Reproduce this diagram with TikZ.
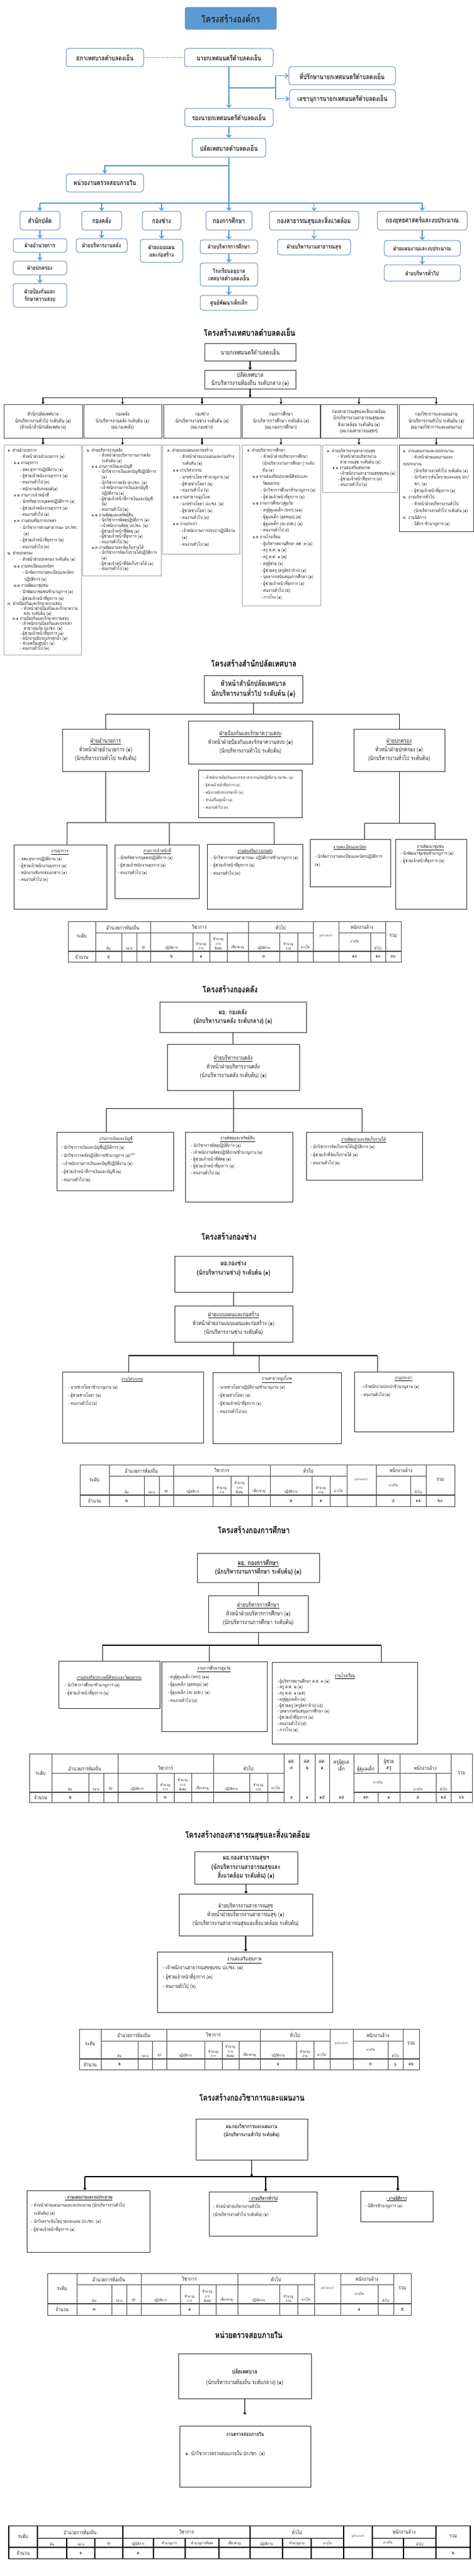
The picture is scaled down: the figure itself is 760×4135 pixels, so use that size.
\documentclass[tikz,border=0pt]{standalone}
\usepackage{fontspec}
\setmainfont[Script=Thai,FakeStretch=0.8]{Loma}
\usetikzlibrary{arrows.meta}
\definecolor{ttlfill}{HTML}{5B9BD5}
\definecolor{ttldraw}{HTML}{41719C}
\definecolor{tbdraw}{HTML}{6A8DBE}
\definecolor{arrc}{HTML}{5B9BD5}
\definecolor{txt}{HTML}{222222}
\newcommand\fs[2]{\fontsize{#1}{#2}\selectfont}
\newcommand\I[1]{\hspace*{#1pt}}
\newcommand\fA{\fs{7.5}{9}}
\newcommand\fB{\fs{7.5}{9}}
\newcommand\fM{\fs{9.5}{14}}
\newcommand\fH{\fs{10.5}{14.5}\bfseries}
\newcommand\fT{\fs{6.3}{8}}
\newcommand\tX[1]{\csname tx#1\endcsname}
\newcommand\tbx[7][]{\node[minimum width={(#5-#3)*1pt},minimum height={(#6-#4)*1pt},inner sep=1pt,#1] (#2) at ({(#3+#5)/2},{(#4+#6)/2}) {#7};}
\newcommand\bx[6][]{\node[minimum width={(#5-#3)*1pt},minimum height={(#6-#4)*1pt},inner sep=0pt,#1] (#2) at ({(#3+#5)/2},{(#4+#6)/2}) {};}
\newcommand\lns[6][]{\foreach \lnitem [count=\ci from 0] in {#6}{\node[lt,#1] (#2\ci) at (#3,{#4+\ci*#5}) {\lnitem};}}
\newcommand\stdtable[9]{%
\begin{scope}[#9]
\foreach \val [count=\kk from 0] in {#2}{\expandafter\xdef\csname tx\kk\endcsname{\val}}%
\def\yA{#3}\def\yB{#4}\def\yC{#5}\def\yD{#6}%
\draw[tline] ({\tX{0}},\yA) rectangle ({\tX{15}},\yD);
\draw[tline] ({\tX{0}},\yC) -- ({\tX{15}},\yC);
\draw[tline] ({\tX{0}},\yC+1.4) -- ({\tX{15}},\yC+1.4);
\foreach \kk in {1,4,8,11,12,14}{\draw[tline] ({\tX{\kk}},\yA) -- ({\tX{\kk}},\yD);}
\foreach \kk in {2,3,5,6,7,9,10,13}{\draw[tline] ({\tX{\kk}},\yB) -- ({\tX{\kk}},\yD);}
\foreach \ia/\ib in {1/4,4/8,8/11,12/14}{\draw[tline] ({\tX{\ia}},\yB) -- ({\tX{\ib}},\yB);}
\node[tgh] (#1-lv) at ({(\tX{0}+\tX{1})/2},{(\yA+\yC)/2}) {ระดับ};
\node[tgh] (#1-g1) at ({(\tX{1}+\tX{4})/2},{(\yA+\yB)/2}) {อำนวยการท้องถิ่น};
\node[tgh] (#1-g2) at ({(\tX{4}+\tX{8})/2},{(\yA+\yB)/2}) {วิชาการ};
\node[tgh] (#1-g3) at ({(\tX{8}+\tX{11})/2},{(\yA+\yB)/2}) {ทั่วไป};
\node[tgh] (#1-g4) at ({(\tX{12}+\tX{14})/2},{(\yA+\yB)/2}) {พนักงานจ้าง};
\node[tgh] (#1-sum) at ({(\tX{14}+\tX{15})/2},{(\yA+\yC)/2}) {รวม};
\node[ttiny] (#1-lp) at ({(\tX{11}+\tX{12})/2},{(\yA+\yC)/2}) {ลูกจ้างประจำ};
\foreach \kk/\tx in {#8}{\pgfmathtruncatemacro\kn{\kk+1}\node[tsub] (#1-s\kk) at ({(\tX{\kk}+\tX{\kn})/2},{\yC-1.5}) {\tx};}
\node[tsub,anchor=center] (#1-s12) at ({(\tX{12}+\tX{13})/2},{(\yB+\yC)/2}) {ภารกิจ};
\node[tgh] (#1-n) at ({(\tX{0}+\tX{1})/2},{(\yC+\yD)/2+0.7}) {จำนวน};
\foreach \vv [count=\kk] in {#7}{\pgfmathtruncatemacro\kn{\kk+1}\node[tdat] (#1-d\kk) at ({(\tX{\kk}+\tX{\kn})/2},{(\yC+\yD)/2+0.7}) {\vv};}
\end{scope}}
\begin{document}
\begin{tikzpicture}[x=1pt,y=-1pt,
  ttlbox/.style={draw=ttldraw,fill=ttlfill,line width=0.8pt,rounded corners=3pt,font=\fs{16}{18}\bfseries,text=black!85},
  tb/.style={draw=tbdraw,fill=white,line width=1pt,rounded corners=4pt,align=center,font=\fs{11}{13}\bfseries,text=black!85},
  tbs/.style={tb,font=\fs{9.5}{12}\bfseries},
  bln/.style={draw=arrc,line width=1.4pt},
  barr/.style={bln,-{Straight Barb[length=4pt,width=7pt]}},
  bdash/.style={draw=arrc,line width=1.3pt,dash pattern=on 3pt off 1.5pt},
  sttl/.style={font=\fs{14}{16}\bfseries,text=black},
  kb/.style={draw=black!80,line width=0.8pt,align=center,text=txt},
  kbh/.style={kb,draw=black!70,font=\fs{8}{10.5}},
  gb/.style={draw=black!35,line width=0.7pt},
  kl/.style={draw=black!85,line width=0.8pt},
  klt/.style={draw=black,line width=1.5pt},
  karr/.style={draw=black,line width=1.6pt,-{Triangle[length=3.5pt,width=5pt]}},
  karrs/.style={draw=black,line width=1.4pt,-{Triangle[length=3pt,width=4.5pt]}},
  lt/.style={anchor=base west,inner sep=0pt,text=txt},
  tline/.style={draw=black!70,line width=0.6pt},
  tgh/.style={font=\fs{8.5}{10},inner sep=0pt,align=center,text=txt},
  tsub/.style={font=\fs{6}{7.2},inner sep=0pt,text width=50pt,align=center,anchor=south,text=txt},
  ttiny/.style={font=\fs{4.5}{5},inner sep=0pt,text=txt},
  tdat/.style={font=\fs{8}{9},inner sep=0pt,text=txt}]
\fill[white] (0,0) rectangle (760,4135);
\useasboundingbox (0,0) rectangle (760,4135);

% ================= Section 1: organisation chart =================
\tbx[ttlbox]{T}{297}{12}{443}{47}{โครงสร้างองค์กร}
\tbx[tb]{sapha}{106}{78}{230}{107}{สภาเทศบาลตำบลดงเย็น}
\tbx[tb]{mayor}{296}{78}{438}{107}{นายกเทศมนตรีตำบลดงเย็น}
\tbx[tb]{advis}{463}{107}{634}{136}{ที่ปรึกษานายกเทศมนตรีตำบลดงเย็น}
\tbx[tb]{secr}{464}{144}{634}{173}{เลขานุการนายกเทศมนตรีตำบลดงเย็น}
\tbx[tb]{deputy}{296}{174}{438}{203}{รองนายกเทศมนตรีตำบลดงเย็น}
\tbx[tb]{palad}{308}{222}{426}{252}{ปลัดเทศบาลตำบลดงเย็น}
\tbx[tb]{audit}{106}{279}{230}{308}{หน่วยงานตรวจสอบภายใน}
\tbx[tb]{d1}{32}{339}{96}{369}{สำนักปลัด}
\tbx[tb]{d2}{131}{339}{195}{369}{กองคลัง}
\tbx[tb]{d3}{228}{339}{290}{369}{กองช่าง}
\tbx[tb]{d4}{330}{339}{404}{369}{กองการศึกษา}
\tbx[tb]{d5}{432}{339}{575}{369}{กองสาธารณสุขและสิ่งแวดล้อม}
\tbx[tb]{d6}{605}{339}{749}{369}{กองยุทธศาสตร์และงบประมาณ}
\tbx[tbs]{s11}{21}{383}{107}{405}{ฝ่ายอำนวยการ}
\tbx[tbs]{s12}{21}{419}{107}{441}{ฝ่ายปกครอง}
\tbx[tbs]{s13}{21}{455}{107}{493}{ฝ่ายป้องกันและ\\รักษาความสงบ}
\tbx[tbs]{s21}{122}{383}{204}{405}{ฝ่ายบริหารงานคลัง}
\tbx[tbs]{s31}{225}{384}{293}{421}{ฝ่ายแบบแผน\\และก่อสร้าง}
\tbx[tbs]{s41}{321}{385}{413}{407}{ฝ่ายบริหารการศึกษา}
\tbx[tbs]{s42}{321}{422}{413}{459}{โรงเรียนอนุบาล\\เทศบาลตำบลดงเย็น}
\tbx[tbs]{s43}{321}{474}{413}{498}{ศูนย์พัฒนาเด็กเล็ก}
\tbx[tbs]{s51}{445}{384}{562}{409}{ฝ่ายบริหารงานสาธารณสุข}
\tbx[tbs]{s61}{616}{386}{738}{411}{ฝ่ายแผนงานและงบประมาณ}
\tbx[tbs]{s62}{616}{425}{738}{451}{ฝ่ายบริหารทั่วไป}
\draw[bdash] (sapha) -- (mayor);
\draw[barr] (mayor) -- (deputy);
\coordinate (br1) at (367,141);
\coordinate (br2) at (442,141);
\draw[bln] (br1) -- (br2);
\draw[barr] (br2) |- (advis.west);
\draw[barr] (br2) |- (secr.west);
\draw[barr] (deputy) -- (palad);
\coordinate (trk) at (367,326);
\coordinate (abr) at (367,266);
\draw[bln] (palad.south) -- (trk);
\draw[barr] (abr) -| (audit.north);
\draw[bln] (d1.north |- trk) -- (d6.north |- trk);
\foreach \dd in {d1,d2,d3,d4,d5,d6}{\draw[barr] (\dd.north |- trk) -- (\dd.north);}
\draw[barr] (d1) -- (s11);
\draw[barr] (s11) -- (s12);
\draw[barr] (s12) -- (s13);
\draw[barr] (d2) -- (s21);
\draw[barr] (d3) -- (s31);
\draw[barr] (d4) -- (s41);
\draw[barr] (s41) -- (s42);
\draw[barr] (s42) -- (s43);
\draw[barr] (d5) -- (s51);
\draw[barr] (d6) -- (s61);
\draw[barr] (s61) -- (s62);

% ================= Section 2 =================
\node[sttl] (st2) at (400,533) {โครงสร้างเทศบาลตำบลดงเย็น};
\tbx[kb,font=\fs{10}{13}]{n1}{328}{551}{474}{579}{นายกเทศมนตรีตำบลดงเย็น}
\tbx[kb,font=\fs{10}{13}]{n2}{328}{594}{474}{624}{ปลัดเทศบาล\\นักบริหารงานท้องถิ่น ระดับกลาง (๑)}
\draw[karr] (n1) -- (n2);
\coordinate (bus2) at (401,638);
\draw[karr] (n2) -- (bus2);
\tbx[kbh]{h1}{6}{649}{132}{703}{สำนักปลัดเทศบาล\\นักบริหารงานทั่วไป ระดับต้น (๑)\\(หัวหน้าสำนักปลัดเทศบาล)}
\tbx[kbh]{h2}{134}{649}{259}{703}{กองคลัง\\นักบริหารงานคลัง ระดับต้น (๑)\\(ผอ.กองคลัง)}
\tbx[kbh]{h3}{262}{649}{386}{703}{กองช่าง\\นักบริหารงานช่าง ระดับต้น (๑)\\(ผอ.กองช่าง)}
\tbx[kbh]{h4}{388}{649}{513}{703}{กองการศึกษา\\นักบริหารการศึกษา ระดับต้น (๑)\\(ผอ.กองการศึกษา)}
\tbx[kbh]{h5}{514}{649}{637}{703}{กองสาธารณสุขและสิ่งแวดล้อม\\นักบริหารงานสาธารณสุขและ\\สิ่งแวดล้อม ระดับต้น (๑)\\(ผอ.กองสาธารณสุขฯ)}
\tbx[kbh]{h6}{640}{649}{759}{703}{กองวิชาการและแผนงาน\\นักบริหารงานทั่วไป ระดับต้น (๑)\\(ผอ.กองวิชาการและแผนงาน)}
\draw[kl] (h1.north |- bus2) -- (h6.north |- bus2);
\foreach \hh in {h1,h2,h3,h4,h5,h6}{\draw[karrs] (\hh.north |- bus2) -- (\hh.north);}
\bx[gb]{l1}{6}{714}{130}{1051}
\bx[gb]{l2}{132}{714}{258}{924}
\bx[gb]{l3}{260}{714}{384}{889}
\bx[gb]{l4}{388}{714}{514}{972}
\bx[gb]{l5}{517}{714}{637}{790}
\bx[gb,draw=black!75]{l6}{640}{714}{759}{853}
\foreach \ha/\hb in {h1/l1,h2/l2,h3/l3,h4/l4,h5/l5,h6/l6}{\draw[karrs] (\ha.south) -- (\ha.south |- \hb.north);}
\lns[font=\fA]{l1a}{12}{725}{10.35}{๑. ฝ่ายอำนวยการ,\I{20}- หัวหน้าฝ่ายอำนวยการ (๑),\I{10}๑.๑ งานธุรการ,\I{20}- จพง.ธุรการปฏิบัติงาน (๑),\I{20}- ผู้ช่วยเจ้าพนักงานธุรการ (๑),\I{20}- คนงานทั่วไป (๓),\I{20}- พนักงานขับรถยนต์(๑),\I{10}๑.๒ งานการเจ้าหน้าที่,\I{20}- นักทรัพยากรบุคคลปฏิบัติการ (๑),\I{20}- ผู้ช่วยเจ้าพนักงานธุรการ (๑),\I{20}- คนงานทั่วไป (๑),\I{10}๑.๓ งานส่งเสริมการเกษตร,\I{20}- นักวิชาการสวนสาธารณะ ปก./ชก.,\I{26}(๑),\I{20}- ผู้ช่วยเจ้าหน้าที่ธุรการ (๒),\I{20}- คนงานทั่วไป (๓),๒. ฝ่ายปกครอง,\I{20}- หัวหน้าฝ่ายปกครอง ระดับต้น (๑),\I{10}๒.๑ งานทะเบียนและบัตร,\I{24}- นักจัดการงานทะเบียนและบัตร,\I{27}ปฏิบัติการ (๑),\I{10}๒.๒ งานพัฒนาชุมชน,\I{20}- นักพัฒนาชุมชนชำนาญการ (๑),\I{20}- ผู้ช่วยเจ้าหน้าที่ธุรการ (๒)}
\lns[font=\fA]{l1b}{12}{971}{8.1}{๓. ฝ่ายป้องกันและรักษาความสงบ,\I{22}- หัวหน้าฝ่ายป้องกันและรักษาความ,\I{26}สงบ ระดับต้น  (๑),\I{8}๓.๑ งานป้องกันและรักษาความสงบ,\I{20}- เจ้าพนักงานป้องกันและบรรเทา,\I{26}สาธารณภัย ปง./ชง. (๑),\I{20}- ผู้ช่วยเจ้าหน้าที่ธุรการ (๑),\I{20}- พนักงานขับรถบรรทุกน้ำ (๑),\I{20}- ช่างเครื่องสูบน้ำ (๑),\I{20}- คนงานทั่วไป (๓)}
\lns[font=\fA]{l2t}{139}{725}{8.68}{๑. ฝ่ายบริหารงานคลัง,\I{20}- หัวหน้าฝ่ายบริหารงานการคลัง,\I{24}ระดับต้น (๑),\I{8}๑.๑ งานการเงินและบัญชี,\I{20}- นักวิชาการเงินและบัญชีปฏิบัติการ,\I{24}(๑),\I{20}- นักวิชาการคลัง ปก./ชก. (๑),\I{20}- เจ้าพนักงานการเงินและบัญชี,\I{24}ปฏิบัติงาน (๑),\I{20}- ผู้ช่วยเจ้าหน้าที่การเงินและบัญชี,\I{24}(๒),\I{20}- คนงานทั่วไป (๒),\I{8}๑.๒ งานพัสดุและทรัพย์สิน,\I{20}- นักวิชาการพัสดุปฏิบัติการ (๑),\I{20}- เจ้าพนักงานพัสดุ ปง./ชง. (๒),\I{20}- ผู้ช่วยเจ้าหน้าที่พัสดุ (๑),\I{20}- ผู้ช่วยเจ้าหน้าที่ธุรการ (๑),\I{20}- คนงานทั่วไป (๒),\I{8}๑.๓ งานพัฒนาและจัดเก็บรายได้,\I{20}- นักวิชาการจัดเก็บรายได้ปฏิบัติการ,\I{24}(๑),\I{20}- ผู้ช่วยเจ้าหน้าที่จัดเก็บรายได้ (๑),\I{20}- คนงานทั่วไป (๒)}
\lns[font=\fA]{l3t}{268}{725}{10.8}{๑. ฝ่ายแบบแผนและก่อสร้าง,\I{20}- หัวหน้าฝ่ายแบบแผนและก่อสร้าง,\I{24}ระดับต้น (๑),\I{9}๑.๑ งานวิศวกรรม,\I{20}- นายช่างโยธาชำนาญงาน (๑),\I{20}- ผู้ช่วยช่างโยธา (๒),\I{20}- คนงานทั่วไป (๖),\I{9}๑.๒ งานสาธารณูปโภค,\I{20}- นายช่างโยธา ปง./ชง. (๑),\I{20}- ผู้ช่วยช่างโยธา (๑),\I{20}- คนงานทั่วไป (๓),\I{9}๑.๓ งานประปา,\I{20}- เจ้าพนักงานการประปาปฏิบัติงาน,\I{24}(๑),\I{20}- คนงานทั่วไป (๒)}
\lns[font=\fA]{l4t}{396}{725}{10.73}{๑. ฝ่ายบริหารการศึกษา,\I{22}- หัวหน้าฝ่ายบริหารการศึกษา,\I{25}(นักบริหารงานการศึกษา ) ระดับ,\I{25}ต้น  (๑),\I{9}๑.๑ งานส่งเสริมประเพณีศิลปะและ,\I{25}วัฒนธรรม,\I{22}- นักวิชาการศึกษาชำนาญการ (๑),\I{22}- ผู้ช่วยเจ้าหน้าที่ธุรการ (๒),\I{9}๑.๒ งานการศึกษาปฐมวัย,\I{22}- ครูผู้ดูแลเด็ก (ขรก)  (๑๑),\I{22}- ผู้ดูแลเด็ก (อุดหนุน)  (๗),\I{22}- ผู้ดูแลเด็ก (งบ อปท.)  (๑),\I{22}- คนงานทั่วไป ๔),\I{9}๑.๓ งานโรงเรียน,\I{22}- ผู้บริหารสถานศึกษา คศ. ๓  (๑),\I{22}- ครู ค.ศ. ๒ (๑),\I{22}- ครู ค.ศ. ๑ (๗),\I{22}- ครูผู้ช่วย (๖),\I{22}- ผู้ช่วยครู (ครูอัตราจ้าง) (๑),\I{22}- บุคลากรสนับสนุนการศึกษา (๑),\I{22}- ผู้ช่วยเจ้าหน้าที่ธุรการ (๑),\I{22}- คนงานทั่วไป (๕),\I{22}- ภารโรง (๑)}
\lns[font=\fA]{l5t}{524}{726}{9}{๑. ฝ่ายบริหารงานสาธารณสุข,\I{18}- หัวหน้าฝ่ายบริหารงาน,\I{21}สาธารณสุข ระดับต้น (๑),\I{9}๑.๑ งานส่งเสริมสุขภาพ,\I{18}- เจ้าพนักงานสาธารณสุขชุมชน (๑),\I{18}- ผู้ช่วยเจ้าหน้าที่ธุรการ (๓),\I{18}- คนงานทั่วไป (๖)}
\lns[font=\fA]{l6t}{646}{726}{10.7}{๑. งานแผนงานและงบประมาณ,\I{14}- หัวหน้าฝ่ายแผนงานและ,งบประมาณ,\I{18}(นักบริหารงานทั่วไป ระดับต้น (๑),\I{14}- นักวิเคราะห์นโยบายและแผน ปก./,\I{18}ชก. (๑),\I{14}- ผู้ช่วยเจ้าหน้าที่ธุรการ (๑),๒. งานบริหารทั่วไป,\I{14}- หัวหน้าฝ่ายบริหารงานทั่วไป,\I{18}(นักบริหารงานทั่วไป ระดับต้น (๑),๓. งานนิติการ,\I{14}- นิติกร ชำนาญการ (๑)}

% ================= Section 3: สำนักปลัด =================
\node[sttl] (st3) at (407,1065) {โครงสร้างสำนักปลัดเทศบาล};
\tbx[kb,font=\fs{12}{16}\bfseries]{p0}{327}{1084}{485}{1128}{หัวหน้าสำนักปลัดเทศบาล\\นักบริหารงานทั่วไป ระดับต้น (๑)}
\tbx[kb,font=\fM]{p1}{100}{1170}{239}{1238}{\underline{ฝ่ายอำนวยการ}\\หัวหน้าฝ่ายอำนวยการ (๑)\\(นักบริหารงานทั่วไป ระดับต้น)}
\tbx[kb,font=\fM]{p2}{302}{1157}{501}{1226}{\underline{ฝ่ายป้องกันและรักษาความสงบ}\\หัวหน้าฝ่ายป้องกันและรักษาความสงบ (๑)\\(นักบริหารงานทั่วไป ระดับต้น)}
\tbx[kb,font=\fM]{p3}{567}{1170}{713}{1238}{\underline{ฝ่ายปกครอง}\\หัวหน้าฝ่ายปกครอง (๑)\\(นักบริหารงานทั่วไป ระดับต้น)}
\coordinate (b3) at (406,1146);
\draw[kl] (p0.south) -- (b3);
\draw[kl] (p1.north) |- (b3) -| (p3.north);
\bx[kb]{p2l}{318}{1236}{484}{1312}
\lns[font=\fT]{p2t}{326}{1250}{12.1}{- เจ้าพนักงานป้องกันและบรรเทาสาธารณภัยปฏิบัติงาน ปง./ชง. (๑),- ผู้ช่วยเจ้าหน้าที่ธุรการ  (๑),- พนักงานขับรถบรรทุกน้ำ (๑),- ช่างเครื่องสูบน้ำ (๑),- คนงานทั่วไป (๓)}
\bx[kb]{q1}{22}{1356}{171}{1459}
\bx[kb]{q2}{184}{1356}{319}{1442}
\bx[kb]{q3}{332}{1355}{485}{1459}
\bx[kb]{q4}{497}{1347}{626}{1423}
\bx[kb]{q5}{634}{1347}{748}{1459}
\coordinate (b3l) at (169.5,1320);
\coordinate (b3la) at (107,1320);
\coordinate (b3lb) at (271,1320);
\coordinate (b3lc) at (439,1320);
\draw[kl] (p1.south) -- (b3l);
\draw[kl] (b3la) -- (b3lc);
\draw[kl] (b3la) -- (b3la |- q1.north);
\draw[kl] (b3lb) -- (b3lb |- q2.north);
\draw[kl] (b3lc) -- (b3lc |- q3.north);
\coordinate (b3r) at (640,1321);
\coordinate (b3ra) at (584,1321);
\coordinate (b3rb) at (697,1321);
\draw[kl] (p3.south) -- (b3r);
\draw[kl] (b3ra) -- (b3rb);
\draw[kl] (b3ra) -- (b3ra |- q4.north);
\draw[kl] (b3rb) -- (b3rb |- q5.north);
\node[font=\fB,text=txt] (q1h) at (96,1368) {\underline{งานธุรการ}};
\lns[font=\fB]{q1t}{30}{1381}{11.3}{- จพง.ธุรการปฏิบัติงาน (๑),- ผู้ช่วยเจ้าพนักงานธุรการ (๑),- พนักงานขับรถส่งเอกสาร (๑),- คนงานทั่วไป (๓)}
\node[font=\fB,text=txt] (q2h) at (252,1366) {\underline{งานการเจ้าหน้าที่}};
\lns[font=\fB]{q2t}{189}{1379}{12}{- นักทรัพยากรบุคคลปฏิบัติการ (๑),- ผู้ช่วยเจ้าพนักงานธุรการ (๑),- คนงานทั่วไป (๑)}
\node[font=\fB,text=txt] (q3h) at (409,1366) {\underline{งานส่งเสริมการเกษตร}};
\lns[font=\fB]{q3t}{338}{1379}{12.5}{- นักวิชาการสวนสาธารณะ ปฏิบัติการ/ชำนาญการ (๑),- ผู้ช่วยเจ้าหน้าที่ธุรการ (๒),- คนงานทั่วไป (๓)}
\node[font=\fB,text=txt] (q4h) at (561,1360) {\underline{งานทะเบียนและบัตร}};
\lns[font=\fB]{q4t}{505}{1377}{13}{- นักจัดการงานทะเบียนและบัตรปฏิบัติการ,(๑)}
\node[font=\fB,text=txt] (q5h) at (690,1360) {\underline{งานพัฒนาชุมชน}};
\lns[font=\fB]{q5t}{642}{1372}{12}{- นักพัฒนาชุมชนชำนาญการ (๑),- ผู้ช่วยเจ้าหน้าที่ธุรการ (๒)}
\stdtable{tA}{109,153,195,219,241,309,336,364,398,448,477,502,543,594,618,643}{1479}{1497}{1526}{1544}{๔,{},{},๒,๑,{},{},๓,{},{},{},๑๐,๑๐,๓๐}{1/ต้น,2/กลาง,3/สูง,4/ปฏิบัติการ,5/{ชำนาญ\\การ},6/{ชำนาญ\\การ\\พิเศษ},7/เชี่ยวชาญ,8/ปฏิบัติงาน,9/{ชำนาญ\\งาน},10/อาวุโส,13/ทั่วไป}{}

% ================= Section 4: กองคลัง =================
\node[sttl] (st4) at (369,1588) {โครงสร้างกองคลัง};
\tbx[kb,font=\fH]{k0}{256}{1608}{491}{1657}{ผอ. กองคลัง\\(นักบริหารงานคลัง ระดับกลาง) (๑)}
\tbx[kb,font=\fM]{k1}{268}{1676}{480}{1750}{\underline{ฝ่ายบริหารงานคลัง}\\หัวหน้าฝ่ายบริหารงานคลัง\\(นักบริหารงานคลัง ระดับต้น) (๑)}
\draw[kl] (k0.south) -- (k0.south |- k1.north);
\bx[kb]{k2}{91}{1817}{278}{1911}
\bx[kb]{k3}{297}{1817}{469}{1929}
\bx[kb]{k4}{491}{1817}{677}{1894}
\draw[kl] (k1.south) -- (k1.south |- k3.north);
\coordinate (b4a) at (170,1779);
\coordinate (b4c) at (580,1779);
\draw[kl] (b4a) -- (b4c);
\draw[kl] (b4a) -- (b4a |- k2.north);
\draw[kl] (b4c) -- (b4c |- k4.north);
\node[font=\fB,text=txt] (k2h) at (186,1829) {\underline{งานการเงินและบัญชี}};
\lns[font=\fB]{k2t}{98}{1844}{13}{- นักวิชาการเงินและบัญชีปฏิบัติการ (๑),- นักวิชาการคลังปฏิบัติการ/ชำนาญการ (๑)***,- เจ้าพนักงานการเงินและบัญชีปฏิบัติงาน (๑),- ผู้ช่วยเจ้าหน้าที่การเงินและบัญชี (๒),- คนงานทั่วไป (๒)}
\node[font=\fB,text=txt] (k3h) at (381,1828) {\underline{งานพัสดุและทรัพย์สิน}};
\lns[font=\fB]{k3t}{306}{1841}{11.2}{- นักวิชาการพัสดุปฏิบัติการ (๑),- เจ้าพนักงานพัสดุปฏิบัติงาน/ชำนาญงาน (๒),- ผู้ช่วยเจ้าหน้าที่พัสดุ (๑),- ผู้ช่วยเจ้าหน้าที่ธุรการ (๑),- คนงานทั่วไป (๒)}
\node[font=\fB,text=txt] (k4h) at (583,1829) {\underline{งานพัฒนาและจัดเก็บรายได้}};
\lns[font=\fB]{k4t}{498}{1843}{13}{- นักวิชาการจัดเก็บรายได้ปฏิบัติการ (๑),- ผู้ช่วยเจ้าที่จัดเก็บรายได้ (๑),- คนงานทั่วไป (๒)}

% ================= Section 5: กองช่าง =================
\node[sttl] (st5) at (367,1985) {โครงสร้างกองช่าง};
\bx[kb]{c0}{280}{2016}{469}{2074}
\node[font=\fH,align=center,text=txt] (c0t) at (374.5,2036) {ผอ.กองช่าง\\(นักบริหารงานช่าง) ระดับต้น (๑)};
\tbx[kb,font=\fM]{c1}{280}{2096}{469}{2154}{\underline{ฝ่ายแบบแผนและก่อสร้าง}\\หัวหน้าฝ่ายงานแบบแผนและก่อสร้าง (๑)\\(นักบริหารงานช่าง ระดับต้น)}
\draw[kl] (c0) -- (c1);
\coordinate (b5) at (374.5,2176);
\draw[kl] (c1) -- (b5);
\coordinate (b5a) at (206,2176);
\coordinate (b5b) at (415,2176);
\coordinate (b5c) at (605,2176);
\draw[klt] (b5a) -- (b5c);
\bx[kb]{c2}{100}{2202}{326}{2316}
\bx[kb]{c3}{341}{2203}{547}{2317}
\bx[kb]{c4}{568}{2202}{727}{2298}
\draw[kl] (b5a) -- (b5a |- c2.north);
\draw[kl] (b5b) -- (b5b |- c3.north);
\draw[kl] (b5c) -- (b5c |- c4.north);
\node[font=\fB,text=txt] (c2h) at (212,2214) {\underline{งานวิศวกรรม}};
\lns[font=\fB]{c2t}{109}{2229}{13}{- นายช่างโยธาชำนาญงาน (๑),- ผู้ช่วยช่างโยธา (๒),- คนงานทั่วไป (๖)}
\node[font=\fB,text=txt] (c3h) at (444,2214) {\underline{งานสาธารณูปโภค}};
\lns[font=\fB]{c3t}{349}{2229}{13}{- นายช่างโยธาปฏิบัติงาน/ชำนาญงาน (๑),- ผู้ช่วยช่างโยธา (๑),- ผู้ช่วยเจ้าหน้าที่ธุรการ (๑),- คนงานทั่วไป (๓)}
\node[font=\fB,text=txt] (c4h) at (647,2213) {\underline{งานประปา}};
\lns[font=\fB]{c4t}{579}{2228}{13}{- เจ้าพนักงานประปาชำนาญงาน  (๑),- คนงานทั่วไป (๒)}
\stdtable{tB}{128,175,231,255,278,341,370,398,433,500,529,556,603,658,683,729}{2351}{2369}{2399}{2418}{๒,{},{},{},{},{},{},๒,๑,{},{},๔,๑๑,๒๐}{1/ต้น,2/กลาง,3/สูง,4/ปฏิบัติการ,5/{ชำนาญ\\การ},6/{ชำนาญ\\การ\\พิเศษ},7/เชี่ยวชาญ,8/ปฏิบัติงาน,9/{ชำนาญ\\งาน},10/อาวุโส,13/ทั่วไป}{}

% ================= Section 6: กองการศึกษา =================
\node[sttl] (st6) at (407,2456) {โครงสร้างกองการศึกษา};
\tbx[kb,font=\fH]{e0}{316}{2493}{512}{2540}{\underline{ผอ. กองการศึกษา}\\(นักบริหารงานการศึกษา ระดับต้น) (๑)}
\tbx[kb,font=\fM]{e1}{334}{2561}{494}{2620}{\underline{ฝ่ายบริหารการศึกษา}\\หัวหน้าฝ่ายบริหารการศึกษา (๑)\\(นักบริหารงานการศึกษา ระดับต้น)}
\draw[kl] (e0) -- (e1);
\coordinate (b6) at (414,2641);
\draw[kl] (e1) -- (b6);
\coordinate (b6a) at (164,2641);
\coordinate (b6b) at (335,2641);
\coordinate (b6c) at (611,2641);
\draw[klt] (b6a) -- (b6c);
\bx[kb]{e2}{94}{2666}{256}{2742}
\bx[kb]{e3}{259}{2667}{428}{2779}
\bx[kb]{e4}{436}{2668}{669}{2799}
\draw[kl] (b6a) -- (b6a |- e2.north);
\draw[kl] (b6b) -- (b6b |- e3.north);
\draw[kl] (b6c) -- (b6c |- e4.north);
\node[font=\fB,text=txt] (e2h) at (175,2693) {\underline{งานส่งเสริมประเพณีศิลปะและวัฒนธรรม}};
\lns[font=\fB]{e2t}{104}{2707}{13}{- นักวิชาการศึกษาชำนาญการ (๑),- ผู้ช่วยเจ้าหน้าที่ธุรการ (๒)}
\node[font=\fB,text=txt] (e3h) at (343,2679) {\underline{งานการศึกษาปฐมวัย}};
\lns[font=\fB]{e3t}{269}{2694}{12.7}{- ครูผู้ดูแลเด็ก (ขรก)   (๑๑),- ผู้ดูแลเด็ก (อุดหนุน)  (๗),- ผู้ดูแลเด็ก (งบ อปท.)  (๑),- คนงานทั่วไป (๔)}
\node[font=\fB,text=txt] (e4h) at (553,2690) {\underline{งานโรงเรียน}};
\lns[font=\fB]{e4t}{444}{2701}{9.75}{- ผู้บริหารสถานศึกษา ค.ศ. ๓ (๑),- ครู ค.ศ. ๒ (๑),- ครู ค.ศ. ๑ (๑๕),- ครูผู้ดูแลเด็ก (๓),- ผู้ช่วยครู (ครูอัตราจ้าง)  (๔),- บุคลากรสนับสนุนการศึกษา (๑),- ผู้ช่วยเจ้าที่ธุรการ (๑),- คนงานทั่วไป (๕),- ภารโรง (๑)}
% table C
\draw[tline] (47,2815) rectangle (757,2893);
\draw[tline] (47,2876) -- (455,2876) (567,2876) -- (757,2876);
\draw[tline] (47,2877.4) -- (455,2877.4) (567,2877.4) -- (757,2877.4);
\draw[tline] (83,2846) -- (455,2846) (567,2846) -- (723,2846);
\foreach \xx in {83,189,342,455,480,505,528,567,641,723}{\draw[tline] (\xx,2815) -- (\xx,2893);}
\foreach \xx in {142,166,251,279,307,400,429,699}{\draw[tline] (\xx,2846) -- (\xx,2893);}
\draw[tline] (606,2815) -- (606,2846) (606,2876) -- (606,2893);
\node[tgh] (tC-lv) at (65,2846) {ระดับ};
\node[tgh] (tC-g1) at (136,2838) {อำนวยการท้องถิ่น};
\node[tgh] (tC-g2) at (265.5,2838) {วิชาการ};
\node[tgh] (tC-g3) at (398.5,2838) {ทั่วไป};
\node[tgh] (tC-k3) at (467.5,2833) {คศ.\\๓};
\node[tgh] (tC-k2) at (492.5,2833) {คศ.\\๒};
\node[tgh] (tC-k1) at (516.5,2833) {คศ.\\๑};
\node[tgh] (tC-kd) at (547.5,2833) {ครูผู้ดูแล\\เด็ก};
\node[tgh] (tC-dd) at (586.5,2840) {ผู้ดูแลเด็ก};
\node[tgh] (tC-ck) at (623.5,2833) {ผู้ช่วย\\ครู};
\node[tgh] (tC-g4) at (682,2838) {พนักงานจ้าง};
\node[tgh] (tC-sum) at (740,2846) {รวม};
\foreach \xx/\tx [count=\cc] in {112.5/ต้น,154/กลาง,177.5/สูง,220/ปฏิบัติการ,265/{ชำนาญ\\การ},293/{ชำนาญ\\การ\\พิเศษ},324.5/เชี่ยวชาญ,371/ปฏิบัติงาน,414.5/{ชำนาญ\\งาน},442/อาวุโส,670/ภารกิจ,711/ทั่วไป}{\node[tsub] (tC-s\cc) at (\xx,2874.5) {\tx};}
\node[tsub,anchor=center] (tC-pk) at (606,2861) {ภารกิจ};
\node[tgh] (tC-n) at (65,2885.5) {จำนวน};
\foreach \xx/\vv [count=\cc] in {112.5/๒,265/๓,467.5/๑,492.5/๑,516.5/๑๕,547.5/๑๔,586.5/๑๓,623.5/๑,670/๔,711/๑๔,740/๖๖}{\node[tdat] (tC-d\cc) at (\xx,2885.5) {\vv};}

% ================= Section 7: กองสาธารณสุข =================
\node[sttl] (st7) at (397,2945) {โครงสร้างกองสาธารณสุขและสิ่งแวดล้อม};
\tbx[kb,font=\fH]{ph0}{312}{2972}{477}{3024}{ผอ.กองสาธารณสุขฯ\\(นักบริหารงานสาธารณสุขและ\\สิ่งแวดล้อม ระดับต้น) (๑)}
\tbx[kb,font=\fM]{ph1}{287}{3040}{501}{3107}{\underline{ฝ่ายบริหารงานสาธารณสุข}\\หัวหน้าฝ่ายบริหารงานสาธารณสุข (๑)\\(นักบริหารงานสาธารณสุขและสิ่งแวดล้อม ระดับต้น)}
\draw[karr] (ph0.south) -- (ph0.south |- ph1.north);
\bx[kb]{ph2}{252}{3133}{533}{3230}
\draw[karr] (ph1.south) -- (ph1.south |- ph2.north);
\node[font=\fs{8.5}{10},text=txt] (ph2h) at (392,3146) {\underline{งานส่งเสริมสุขภาพ}};
\lns[font=\fs{8.5}{10}]{ph2t}{261}{3161}{15}{- เจ้าพนักงานสาธารณสุขชุมชน ปง./ชง. (๑),- ผู้ช่วยเจ้าหน้าที่ธุรการ (๓),- คนงานทั่วไป (๖)}
\stdtable{tD}{127,162,221,244,267,328,356,383,417,475,503,529,566,622,646,672}{3257}{3276}{3304}{3322}{๒,{},{},{},{},{},{},๑,{},{},{},๓,๖,๑๒}{1/ต้น,2/กลาง,3/สูง,4/ปฏิบัติการ,5/{ชำนาญ\\การ},6/{ชำนาญ\\การ\\พิเศษ},7/เชี่ยวชาญ,8/ปฏิบัติงาน,9/{ชำนาญ\\งาน},10/อาวุโส,13/ทั่วไป}{}

% ================= Section 8: กองวิชาการและแผนงาน =================
\node[sttl] (st8) at (404,3367) {โครงสร้างกองวิชาการและแผนงาน};
\bx[kb]{w0}{314}{3401}{493}{3467}
\node[font=\fs{8.5}{13}\bfseries,align=center,text=txt] (w0t) at (403.5,3420) {ผอ.กองวิชาการและแผนงาน\\(นักบริหารงานทั่วไป ระดับต้น)};
\coordinate (b8) at (403.5,3494);
\draw[karr] (w0) -- (b8);
\coordinate (b8a) at (136,3494);
\coordinate (b8b) at (426,3494);
\coordinate (b8c) at (638,3494);
\draw[klt] (b8a) -- (b8c);
\bx[kb]{w1}{43}{3516}{240}{3615}
\bx[kb]{w2}{335}{3518}{508}{3589}
\bx[kb]{w3}{578}{3517}{694}{3566}
\draw[karr] (b8a) -- (b8a |- w1.north);
\draw[karr] (b8b) -- (b8b |- w2.north);
\draw[karr] (b8c) -- (b8c |- w3.north);
\node[font=\fB\bfseries,text=txt] (w1h) at (142,3528) {\underline{- งานแผนงานและงบประมาณ}};
\lns[font=\fB]{w1t}{50}{3542}{13}{- หัวหน้าฝ่ายแผนงานและงบประมาณ (นักบริหารงานทั่วไป,\I{4}ระดับต้น) (๑),- นักวิเคราะห์นโยบายและแผน ปก./ชก. (๑),- ผู้ช่วยเจ้าหน้าที่ธุรการ (๑)}
\node[font=\fB\bfseries,text=txt] (w2h) at (422,3529) {\underline{- งานบริหารทั่วไป}};
\lns[font=\fB]{w2t}{342}{3544}{13}{- หัวหน้าฝ่ายบริหารงานทั่วไป,(นักบริหารงานทั่วไป ระดับต้น) (๑)}
\node[font=\fB\bfseries,text=txt] (w3h) at (636,3529) {\underline{- งานนิติการ}};
\lns[font=\fB]{w3t}{586}{3543}{13}{- นิติกรชำนาญการ (๑)}
\stdtable{tE}{76,123,179,203,226,289,319,346,381,448,477,504,546,606,631,659}{3649}{3667}{3697}{3716}{๓,{},{},{},๑,{},{},{},{},{},{},๑,{},๕}{1/ต้น,2/กลาง,3/สูง,4/ปฏิบัติการ,5/{ชำนาญ\\การ},6/{ชำนาญ\\การ\\พิเศษ},7/เชี่ยวชาญ,8/ปฏิบัติงาน,9/{ชำนาญ\\งาน},10/อาวุโส,13/ทั่วไป}{}

% ================= Section 9: หน่วยตรวจสอบภายใน =================
\node[sttl] (st9) at (399,3748) {หน่วยตรวจสอบภายใน};
\bx[kb]{a0}{286}{3778}{499}{3850}
\node[font=\fs{9.5}{17},align=center,text=txt] (a0t) at (392.5,3816) {{\bfseries ปลัดเทศบาล}\\(นักบริหารงานท้องถิ่น ระดับกลาง) (๑)};
\coordinate (a0e) at (392.5,3876);
\draw[karr] (a0) -- (a0e);
\bx[kb]{a1}{288}{3894}{498}{3992}
\node[font=\fs{8.5}{10}\bfseries,text=txt] (a1h) at (393,3907) {งานตรวจสอบภายใน};
\lns[font=\fs{8.5}{10}]{a1t}{297}{3941}{13}{๑. นักวิชาการตรวจสอบภายใน ปก./ชก. (๑)}
\stdtable{tF}{14,60,107,152,197,246,297,351,401,453,499,551,597,647,699,754}{4054}{4074}{4088}{4107}{{},๑,{},๑,{},{},{},{},{},{},{},{},{},๒}{1/ต้น,2/กลาง,3/สูง,4/ปฏิบัติการ,5/ชำนาญการ,6/ชำนาญการพิเศษ,7/เชี่ยวชาญ,8/ปฏิบัติงาน,9/ชำนาญงาน,10/อาวุโส,13/ทั่วไป}{tline/.append style={draw=black,line width=1.1pt}}
\end{tikzpicture}
\end{document}
